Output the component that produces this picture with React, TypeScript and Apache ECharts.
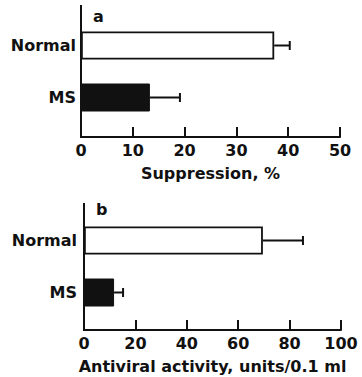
import React, { useEffect, useRef } from 'react';
import * as echarts from 'echarts';

const categories = ['MS', 'Normal'];
const suppressionMean = [13.3, 37.3];
const suppressionErr = [5.8, 3.0];
const antiviralMean = [11.7, 69.6];
const antiviralErr = [3.5, 15.6];
const suppressionAxis = { min: 0, max: 50, interval: 10 };
const antiviralAxis = { min: 0, max: 100, interval: 20 };
const panelLabels = ['a', 'b'];
const axisTitles = ['Suppression, %', 'Antiviral activity, units/0.1 ml'];

const INK = '#111';
const FONT = 'DejaVu Sans';

function barData(means: number[]) {
  return means.map((v, i) => ({
    value: v,
    itemStyle:
      categories[i] === 'Normal'
        ? { color: '#fff', borderColor: INK, borderWidth: 1.8 }
        : { color: INK, borderColor: INK, borderWidth: 1 },
  }));
}

function errData(means: number[], errs: number[]) {
  return means.map((v, i) => [v, v + errs[i], i]);
}

const renderErr = (params: any, api: any) => {
  const lo = api.coord([api.value(0), api.value(2)]);
  const hi = api.coord([api.value(1), api.value(2)]);
  const st = { stroke: INK, lineWidth: 2 };
  return {
    type: 'group',
    children: [
      { type: 'line', shape: { x1: lo[0], y1: lo[1], x2: hi[0], y2: hi[1] }, style: st },
      { type: 'line', shape: { x1: hi[0], y1: hi[1] - 4.5, x2: hi[0], y2: hi[1] + 4.5 }, style: st },
    ],
  };
};

const textStyle = { fontFamily: FONT, fontWeight: 'bold' as const, fontSize: 16, color: INK };

function xAxisFor(gridIndex: number, ax: any, name: string, offset: number) {
  return {
    gridIndex,
    type: 'value',
    position: 'bottom',
    min: ax.min,
    max: ax.max,
    interval: ax.interval,
    offset,
    axisLine: { show: true, lineStyle: { color: INK, width: 2 } },
    axisTick: { show: true, inside: true, length: 10, lineStyle: { color: INK, width: 2 } },
    axisLabel: { margin: 5, ...textStyle },
    splitLine: { show: false },
    name,
    nameLocation: 'middle',
    nameGap: 28,
    nameTextStyle: textStyle,
  };
}

function yAxisFor(gridIndex: number, margin: number) {
  return {
    gridIndex,
    type: 'category',
    data: categories,
    axisLine: { show: false },
    axisTick: { show: false },
    axisLabel: { margin, ...textStyle },
    splitLine: { show: false },
  };
}

export default function App() {
  const ref = useRef<HTMLDivElement>(null);
  useEffect(() => {
    if (!ref.current) return;
    const chart = echarts.init(ref.current, null, { renderer: 'svg' });
    chart.setOption({
      animation: false,
      backgroundColor: '#fff',
      grid: [
        { left: 81, width: 259, top: 19.5, height: 104 },
        { left: 84, width: 257, top: 214.5, height: 104 },
      ],
      xAxis: [
        xAxisFor(0, suppressionAxis, axisTitles[0], 13.5),
        xAxisFor(1, antiviralAxis, axisTitles[1], 11.5),
      ],
      yAxis: [yAxisFor(0, 5), yAxisFor(1, 7)],
      series: [
        { type: 'bar', xAxisIndex: 0, yAxisIndex: 0, barWidth: 28, data: barData(suppressionMean) },
        {
          type: 'custom', xAxisIndex: 0, yAxisIndex: 0, renderItem: renderErr,
          encode: { x: [0, 1], y: 2 }, data: errData(suppressionMean, suppressionErr), z: 3,
        },
        { type: 'bar', xAxisIndex: 1, yAxisIndex: 1, barWidth: 28, data: barData(antiviralMean) },
        {
          type: 'custom', xAxisIndex: 1, yAxisIndex: 1, renderItem: renderErr,
          encode: { x: [0, 1], y: 2 }, data: errData(antiviralMean, antiviralErr), z: 3,
        },
      ],
      graphic: [
        { type: 'line', shape: { x1: 81, y1: 5, x2: 81, y2: 138 }, style: { stroke: INK, lineWidth: 2 } },
        { type: 'line', shape: { x1: 84, y1: 203, x2: 84, y2: 331 }, style: { stroke: INK, lineWidth: 2 } },
        {
          type: 'text', x: 93, y: 16,
          style: { text: panelLabels[0], font: `bold 16px "${FONT}"`, fill: INK, verticalAlign: 'middle' },
        },
        {
          type: 'text', x: 96, y: 209,
          style: { text: panelLabels[1], font: `bold 16px "${FONT}"`, fill: INK, verticalAlign: 'middle' },
        },
      ],
    });
    return () => chart.dispose();
  }, []);
  return <div ref={ref} style={{ position: 'fixed', left: 0, top: 0, width: 362, height: 377 }} />;
}
